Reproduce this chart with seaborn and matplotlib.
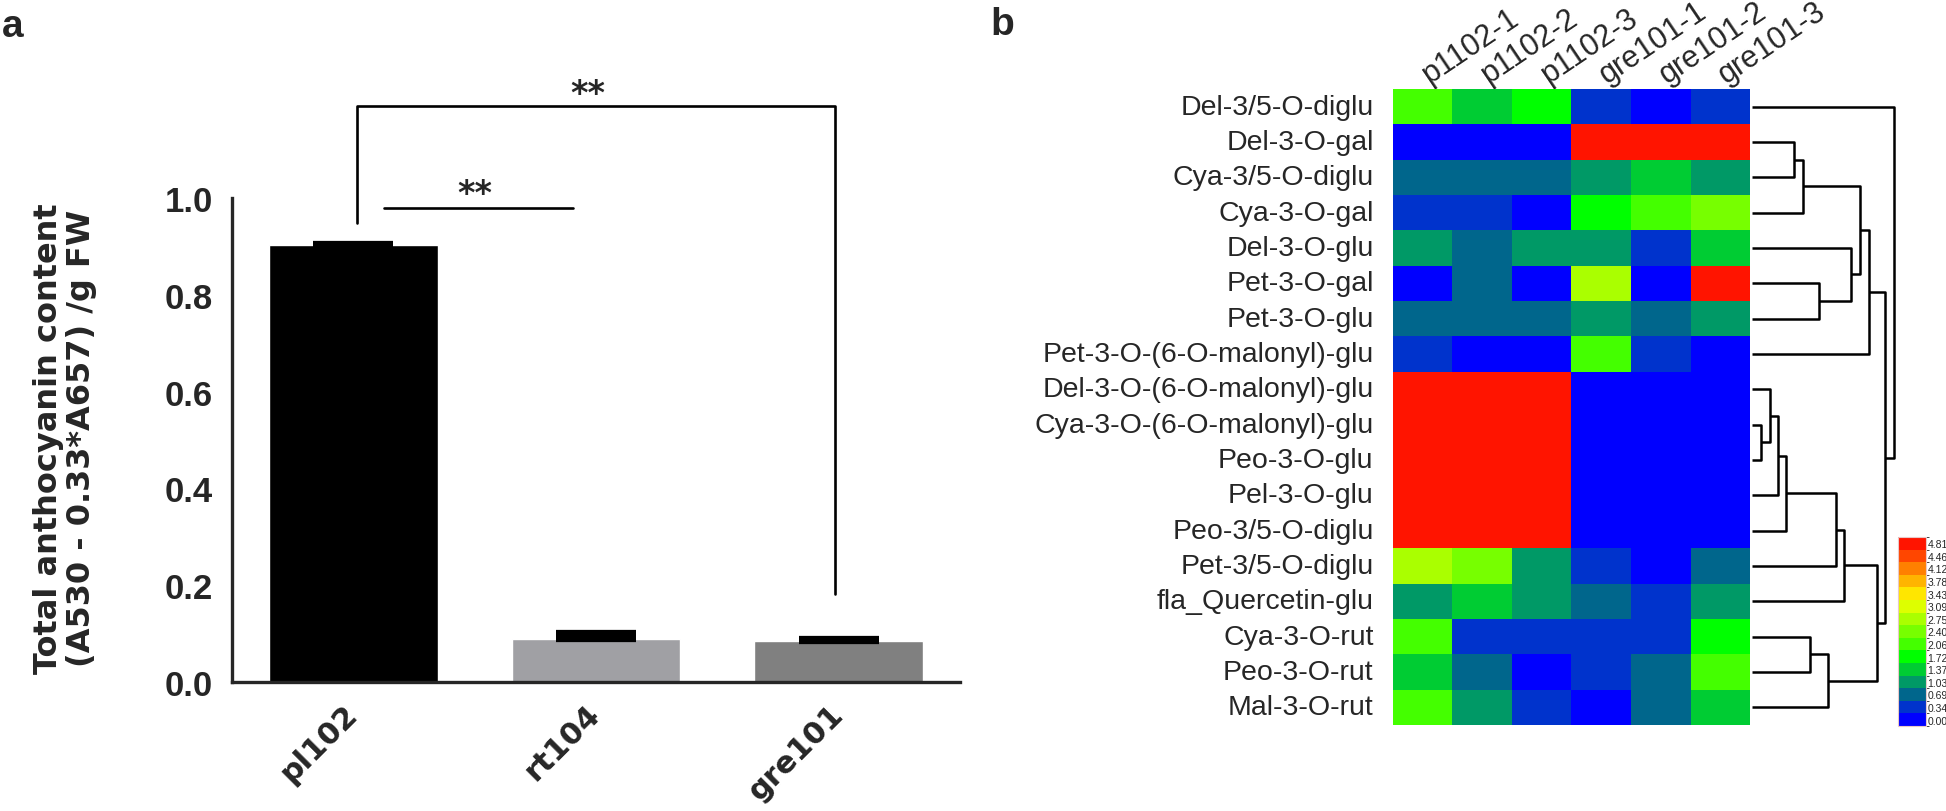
import matplotlib
matplotlib.use("Agg")
import matplotlib.pyplot as plt
import matplotlib.transforms as mtransforms
from matplotlib.colors import ListedColormap, BoundaryNorm
import pandas as pd
import numpy as np
import seaborn as sns

# ---------------- data: panel a ----------------
strains = ["pl102", "rt104", "gre101"]
anthocyanin_mean = [0.902, 0.089, 0.085]
anthocyanin_err = [0.002, 0.012, 0.004]
bar_colors = ["#000000", "#A0A0A4", "#808080"]

# ---------------- data: panel b ----------------
samples = ["p1102-1", "p1102-2", "p1102-3", "gre101-1", "gre101-2", "gre101-3"]
metabolites = [
    "Del-3/5-O-diglu", "Del-3-O-gal", "Cya-3/5-O-diglu", "Cya-3-O-gal",
    "Del-3-O-glu", "Pet-3-O-gal", "Pet-3-O-glu", "Pet-3-O-(6-O-malonyl)-glu",
    "Del-3-O-(6-O-malonyl)-glu", "Cya-3-O-(6-O-malonyl)-glu", "Peo-3-O-glu",
    "Pel-3-O-glu", "Peo-3/5-O-diglu", "Pet-3/5-O-diglu", "fla_Quercetin-glu",
    "Cya-3-O-rut", "Peo-3-O-rut", "Mal-3-O-rut",
]
abundance = [
    [2.25, 1.55, 1.90, 0.50, 0.10, 0.50],
    [0.10, 0.10, 0.10, 5.00, 5.00, 5.00],
    [0.85, 0.85, 0.85, 1.20, 1.55, 1.20],
    [0.50, 0.50, 0.10, 1.90, 2.25, 2.60],
    [1.20, 0.85, 1.20, 1.20, 0.50, 1.55],
    [0.10, 0.85, 0.10, 2.90, 0.10, 5.00],
    [0.85, 0.85, 0.85, 1.20, 0.85, 1.20],
    [0.50, 0.10, 0.10, 2.25, 0.50, 0.10],
    [5.00, 5.00, 5.00, 0.10, 0.10, 0.10],
    [5.00, 5.00, 5.00, 0.10, 0.10, 0.10],
    [5.00, 5.00, 5.00, 0.10, 0.10, 0.10],
    [5.00, 5.00, 5.00, 0.10, 0.10, 0.10],
    [5.00, 5.00, 5.00, 0.10, 0.10, 0.10],
    [2.90, 2.60, 1.20, 0.50, 0.10, 0.85],
    [1.20, 1.55, 1.20, 0.85, 0.50, 1.20],
    [2.25, 0.50, 0.50, 0.50, 0.50, 1.90],
    [1.55, 0.85, 0.10, 0.50, 0.85, 2.25],
    [2.25, 1.20, 0.50, 0.10, 0.85, 1.55],
]
level_bounds = [0.00, 0.34, 0.69, 1.03, 1.37, 1.72, 2.06, 2.40, 2.75,
                3.09, 3.43, 3.78, 4.12, 4.46, 4.81, 5.15]
level_colors = ["#0000FF", "#0033CC", "#00668C", "#009966", "#00CC33",
                "#00FF00", "#44FF00", "#77FF00", "#AAFF00", "#DDFF00",
                "#FFE600", "#FFB400", "#FF8000", "#FF4600", "#FF1400"]
# row dendrogram: (left child, right child, height); leaves 0..17, clusters 18..
row_linkage = [
    (1, 2, 42), (18, 3, 51), (5, 6, 67), (4, 20, 99), (19, 21, 108),
    (22, 7, 117), (9, 10, 9), (8, 24, 18), (25, 11, 26), (26, 12, 34),
    (27, 13, 84), (28, 14, 92), (15, 16, 58), (30, 17, 76), (29, 31, 125),
    (23, 32, 133), (0, 33, 142),
]

sns.set_style("white")
plt.rcParams["font.family"] = ["Liberation Sans", "DejaVu Sans"]

fig = plt.figure(figsize=(19.46, 8.12), dpi=100)

# ---------------- panel a: bar chart ----------------
ax_a = fig.add_axes([0.1192, 0.1589, 0.3741, 0.5961])
df_a = pd.DataFrame({"strain": strains, "value": anthocyanin_mean})
sns.barplot(data=df_a, x="strain", y="value", hue="strain", palette=bar_colors,
            legend=False, width=0.695, saturation=1, ax=ax_a)
ax_a.errorbar(range(len(strains)), anthocyanin_mean,
              yerr=[np.zeros(len(strains)), anthocyanin_err],
              fmt="none", ecolor="black", elinewidth=3, capsize=29, capthick=4.5)
ax_a.set_ylim(0, 1.0)
ax_a.set_xlim(-0.5, 2.5)
ax_a.set_yticks([0.0, 0.2, 0.4, 0.6, 0.8, 1.0])
ax_a.set_yticklabels(["0.0", "0.2", "0.4", "0.6", "0.8", "1.0"],
                     fontsize=25, fontweight="bold")
ax_a.set_xticks(range(len(strains)))
ax_a.set_xticklabels(strains, rotation=45, ha="right", va="center",
                     rotation_mode="anchor", fontsize=22, fontweight="bold",
                     family="DejaVu Sans")
for side in ["top", "right"]:
    ax_a.spines[side].set_visible(False)
for side in ["left", "bottom"]:
    ax_a.spines[side].set_linewidth(2.4)
ax_a.tick_params(axis="both", direction="out", length=9.5, width=2.4, color="black")
ax_a.tick_params(axis="y", pad=4)
ax_a.tick_params(axis="x", pad=10)
ax_a.set_xlabel("")
ax_a.set_ylabel("Total anthocyanin content\n(A530 - 0.33*A657) /g FW",
                fontsize=23, fontweight="bold", family="DejaVu Sans",
                linespacing=1.1)
ax_a.yaxis.set_label_coords(-0.185, 0.505)

# significance marks
ax_a.plot([0.128, 0.905], [0.979, 0.979], color="black", lw=1.9, clip_on=False)
ax_a.text(0.5, 0.989, "**", ha="center", va="baseline", fontsize=24,
          fontweight="bold", family="DejaVu Sans")
ax_a.plot([0.017, 0.017, 1.983, 1.983], [0.948, 1.19, 1.19, 0.182],
          color="black", lw=1.9, clip_on=False)
ax_a.text(0.967, 1.197, "**", ha="center", va="baseline", fontsize=24,
          fontweight="bold", family="DejaVu Sans", clip_on=False)

fig.text(0.001, 1 - 37 / 812, "a", fontsize=28, fontweight="bold", va="baseline")
fig.text(990 / 1946, 1 - 35 / 812, "b", fontsize=28, fontweight="bold", va="baseline")

# ---------------- panel b: heatmap ----------------
ax_h = fig.add_axes([0.7158, 0.1059, 0.1835, 0.7833])
df_b = pd.DataFrame(abundance, index=metabolites, columns=samples)
cmap = ListedColormap(level_colors)
norm = BoundaryNorm(level_bounds, cmap.N)
sns.heatmap(df_b, cmap=cmap, norm=norm, cbar=False, ax=ax_h,
            xticklabels=True, yticklabels=True)
ax_h.xaxis.tick_top()
ax_h.tick_params(axis="both", length=0)
ax_h.tick_params(axis="y", pad=14)
ax_h.tick_params(axis="x", pad=1)
ax_h.set_yticklabels(metabolites, rotation=0, fontsize=20.5)
ax_h.set_xticklabels(samples, rotation=34, ha="left", va="baseline",
                     rotation_mode="anchor", fontsize=22)
shift = mtransforms.ScaledTranslation(6 / 100, 4 / 100, fig.dpi_scale_trans)
for lab in ax_h.get_xticklabels():
    lab.set_transform(lab.get_transform() + shift)
ax_h.set_xlabel("")
ax_h.set_ylabel("")

# row dendrogram
ax_d = fig.add_axes([0.9003, 0.1059, 0.0735, 0.7833])
pos = {i: i + 0.5 for i in range(len(metabolites))}
hgt = {i: 0.0 for i in range(len(metabolites))}
for k, (a, b, h) in enumerate(row_linkage):
    cid = len(metabolites) + k
    ax_d.plot([hgt[a], h, h, hgt[b]], [pos[a], pos[a], pos[b], pos[b]],
              color="black", lw=1.8, clip_on=False, solid_capstyle="butt")
    pos[cid] = (pos[a] + pos[b]) / 2
    hgt[cid] = h
ax_d.set_ylim(len(metabolites), 0)
ax_d.set_xlim(0, 143)
ax_d.axis("off")

# colour key
cax = fig.add_axes([0.9753, 0.1047, 0.01439, 0.2328])
cb = fig.colorbar(ax_h.collections[0], cax=cax)
centers = [(level_bounds[i] + level_bounds[i + 1]) / 2 for i in range(len(level_colors))]
cb.set_ticks(centers)
cb.set_ticklabels(["%.2f" % v for v in level_bounds[:-1]])
cb.ax.tick_params(length=0, pad=1, labelsize=7.5)
cb.outline.set_edgecolor("#e8c8c8")
cb.outline.set_linewidth(0.8)

fig.savefig("out.png", dpi=100)
